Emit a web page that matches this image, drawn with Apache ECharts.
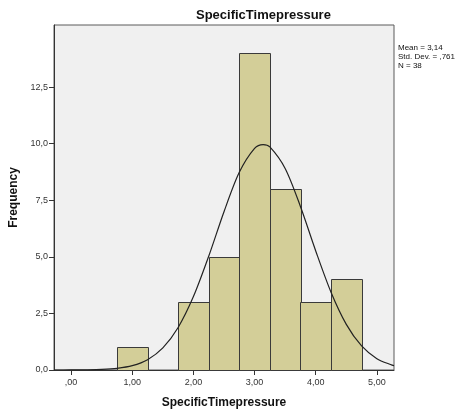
<!DOCTYPE html>
<html>
<head>
<meta charset="utf-8">
<script src="https://cdn.jsdelivr.net/npm/echarts@6/dist/echarts.min.js"></script>
<style>
html,body{margin:0;padding:0;background:#fff;}
#c{width:467px;height:412px;}
</style>
</head>
<body>
<div id="c"></div>
<script>
// Histogram bins
const binLow = [0.75, 1.75, 2.25, 2.75, 3.25, 3.75, 4.25];
const binHigh = [1.25, 2.25, 2.75, 3.25, 3.75, 4.25, 4.75];
const counts = [1, 3, 5, 14, 8, 3, 4];
// Normal curve (Mean 3,14; SD ,761; N 38)
const curveX = [-0.28, -0.25, 0, 0.25, 0.5, 0.75, 1, 1.25, 1.5, 1.75, 2, 2.25, 2.5, 2.75, 3, 3.14, 3.25, 3.5, 3.75, 4, 4.25, 4.5, 4.75, 5, 5.25, 5.28];
const curveY = [0.0004, 0.0005, 0.002, 0.0073, 0.024, 0.072, 0.191, 0.456, 0.977, 1.879, 3.243, 5.026, 6.994, 8.734, 9.793, 9.96, 9.856, 8.905, 7.223, 5.26, 3.438, 2.017, 1.062, 0.502, 0.213, 0.191];
const xTicks = [0, 1, 2, 3, 4, 5];
const yTicks = [0, 2.5, 5, 7.5, 10, 12.5];
const titleText = 'SpecificTimepressure';
const xName = 'SpecificTimepressure';
const yName = 'Frequency';
const statsLines = ['Mean = 3,14', 'Std. Dev. = ,761', 'N = 38'];

const fmtX = v => { const s = v.toFixed(2).replace('.', ','); return s.startsWith('0,') ? s.slice(1) : s; };
const fmtY = v => v.toFixed(1).replace('.', ',');

const chart = echarts.init(document.getElementById('c'), null, {renderer: 'canvas'});
const FONT = 'Liberation Sans, Arial, sans-serif';
chart.setOption({
  animation: false,
  backgroundColor: '#ffffff',
  textStyle: {fontFamily: FONT},
  title: {
    text: titleText, left: 191, top: 4,
    textStyle: {fontFamily: FONT, fontSize: 13, fontWeight: 'bold', color: '#111'}
  },
  grid: {
    left: 54, right: 73, top: 25, bottom: 42,
    containLabel: false, outerBoundsMode: 'none',
    show: true, backgroundColor: '#f0f0f0', borderColor: '#5a5a5a', borderWidth: 1
  },
  xAxis: {
    type: 'value', min: -0.28, max: 5.28,
    name: xName, nameLocation: 'middle', nameGap: 27,
    nameTextStyle: {fontFamily: FONT, fontSize: 12, fontWeight: 'bold', color: '#111'},
    axisLine: {show: true, onZero: false, lineStyle: {color: '#333', width: 1}},
    axisTick: {show: true, length: 5, lineStyle: {color: '#333'}, customValues: xTicks},
    axisLabel: {customValues: xTicks, formatter: fmtX, fontSize: 9, color: '#333', margin: 8},
    splitLine: {show: false}
  },
  yAxis: {
    type: 'value', min: 0, max: 15.24,
    name: yName, nameLocation: 'middle', nameGap: 28,
    nameTextStyle: {fontFamily: FONT, fontSize: 12, fontWeight: 'bold', color: '#111'},
    axisLine: {show: true, onZero: false, lineStyle: {color: '#333', width: 1}},
    axisTick: {show: true, length: 5, lineStyle: {color: '#333'}, customValues: yTicks},
    axisLabel: {customValues: yTicks, formatter: fmtY, fontSize: 9, color: '#333', margin: 6},
    splitLine: {show: false}
  },
  graphic: [{
    type: 'text', left: 398, top: 43,
    style: {text: statsLines.join('\n'), font: '8px ' + FONT, fill: '#111', lineHeight: 9}
  }],
  series: [{
    type: 'custom',
    data: counts.map((c, i) => [binLow[i], binHigh[i], c]),
    renderItem: function (params, api) {
      const p0 = api.coord([api.value(0), api.value(2)]);
      const p1 = api.coord([api.value(1), 0]);
      return {
        type: 'rect',
        shape: {x: Math.round(p0[0]) + 0.5, y: Math.round(p0[1]) + 0.5, width: Math.round(p1[0] - p0[0]), height: Math.round(p1[1] - p0[1])},
        style: {fill: '#d3ce98', stroke: '#3a3a3a', lineWidth: 1}
      };
    },
    encode: {x: [0, 1], y: 2},
    z: 2
  }, {
    type: 'line',
    data: curveX.map((x, i) => [x, curveY[i]]),
    smooth: 0.3, showSymbol: false, symbol: 'none',
    lineStyle: {color: '#222', width: 1.2},
    z: 3
  }]
});
</script>
</body>
</html>
